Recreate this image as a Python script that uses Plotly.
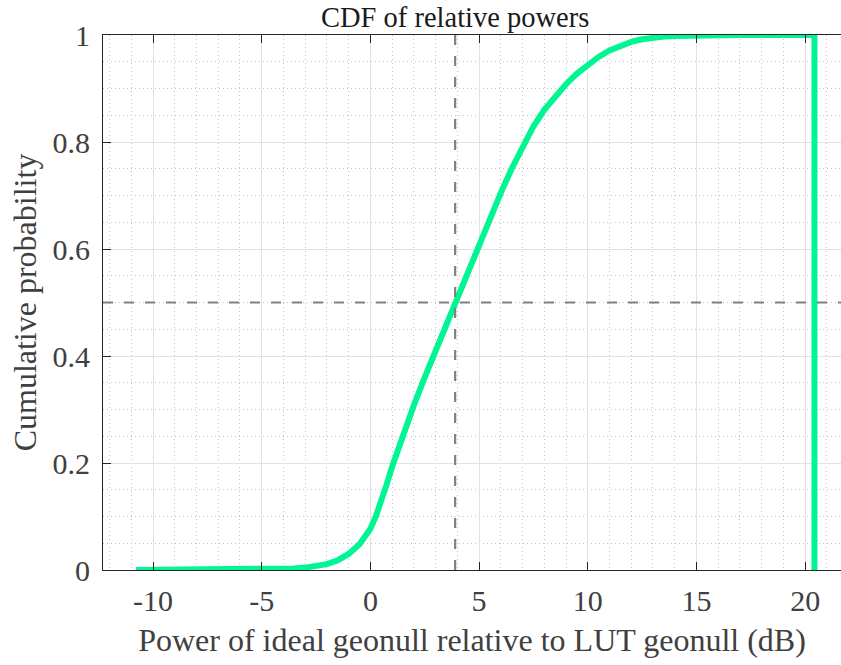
import plotly.graph_objects as go

# Empirical CDF of the relative power (dB), sampled along the curve
power_db = [-10.78, -9.0, -8.0, -7.0, -6.0, -5.0, -4.0, -3.5, -3.0, -2.5, -2.0, -1.5,
            -1.0, -0.5, 0.0, 0.25, 0.5, 0.75, 1.0, 1.25, 1.5, 1.75, 2.0, 2.5, 3.0,
            3.5, 3.9, 4.5, 5.0, 5.5, 6.0, 6.5, 7.0, 7.5, 8.0, 8.5, 9.0, 9.5, 10.0,
            10.5, 11.0, 11.5, 12.0, 12.5, 13.0, 13.5, 14.0, 15.0, 16.0, 17.0, 18.0,
            19.0, 20.43, 20.43]
cum_prob = [0.0, 0.0002, 0.0004, 0.0007, 0.001, 0.0014, 0.002, 0.003, 0.0045, 0.007,
            0.011, 0.018, 0.03, 0.048, 0.077, 0.1, 0.128, 0.16, 0.193, 0.224, 0.253,
            0.281, 0.308, 0.36, 0.41, 0.458, 0.5, 0.56, 0.61, 0.658, 0.705, 0.75,
            0.792, 0.829, 0.86, 0.886, 0.908, 0.928, 0.945, 0.959, 0.971, 0.98,
            0.987, 0.992, 0.995, 0.997, 0.998, 0.9993, 0.9998, 1.0, 1.0, 1.0, 1.0,
            0.0]

median_db = 3.9
median_p = 0.5

x_ticks = [-10, -5, 0, 5, 10, 15, 20]
y_ticks = [0, 0.2, 0.4, 0.6, 0.8, 1]
y_tick_text = ["0", "0.2", "0.4", "0.6", "0.8", "1"]

x_range = [-12.3, 21.65]
y_range = [0, 1]

FONT = "Liberation Serif"
TEXT = "#404040"
AXIS = "#262626"

W, H = 841, 665
M_L, M_R, M_T, M_B = 103, 0, 35, 95
PLOT_W = W - M_L - M_R
PLOT_H = H - M_T - M_B

fig = go.Figure()

fig.add_trace(go.Scatter(
    x=power_db, y=cum_prob, mode="lines",
    line=dict(color="#00f593", width=6),
    hoverinfo="skip", showlegend=False,
))

# median guide lines
fig.add_shape(type="line", xref="paper", yref="y", x0=0, x1=1,
              y0=median_p, y1=median_p,
              line=dict(color="#808080", width=2.2, dash="10px,11px"))
fig.add_shape(type="line", xref="x", yref="y", x0=median_db, x1=median_db,
              y0=0, y1=1,
              line=dict(color="#808080", width=2.2, dash="10px,11px"))

fig.update_xaxes(
    range=x_range, tickvals=x_ticks, ticktext=[str(v) for v in x_ticks],
    showline=True, linecolor=AXIS, linewidth=1.2, mirror="ticks",
    ticks="inside", ticklen=8, tickcolor=AXIS, tickwidth=1.2,
    showgrid=True, gridcolor="#e2e2e2", gridwidth=1,
    minor=dict(dtick=1, tick0=0, showgrid=True, gridcolor="#c4c4c4",
               griddash="1px,3px", gridwidth=1, ticks=""),
    tickfont=dict(family=FONT, size=30, color=TEXT),
    ticklabelstandoff=4,
    zeroline=False,
    title=dict(text="Power of ideal geonull relative to LUT geonull (dB)",
               font=dict(family=FONT, size=32, color=TEXT), standoff=12),
)
fig.update_yaxes(
    range=y_range, tickvals=y_ticks, ticktext=y_tick_text,
    showline=True, linecolor=AXIS, linewidth=1.2, mirror=False,
    ticks="inside", ticklen=8, tickcolor=AXIS, tickwidth=1.2,
    showgrid=True, gridcolor="#e2e2e2", gridwidth=1,
    minor=dict(dtick=0.05, tick0=0, showgrid=True, gridcolor="#c4c4c4",
               griddash="1px,3px", gridwidth=1, ticks=""),
    tickfont=dict(family=FONT, size=30, color=TEXT),
    ticklabelstandoff=6,
    zeroline=False,
    title=dict(text="Cumulative probability",
               font=dict(family=FONT, size=32, color=TEXT), standoff=6),
)

# chart title, placed just above the axes box
fig.add_annotation(
    text="CDF of relative powers", showarrow=False,
    xref="paper", yref="paper",
    x=(455 - M_L) / PLOT_W, xanchor="center",
    y=1 + (M_T - 1) / PLOT_H, yanchor="top",
    borderpad=0,
    font=dict(family=FONT, size=28.5, color="#1a1a1a"),
)

fig.update_layout(
    width=W, height=H,
    margin=dict(l=M_L, r=M_R, t=M_T, b=M_B),
    paper_bgcolor="white", plot_bgcolor="white",
)

fig.write_html("out.html")
